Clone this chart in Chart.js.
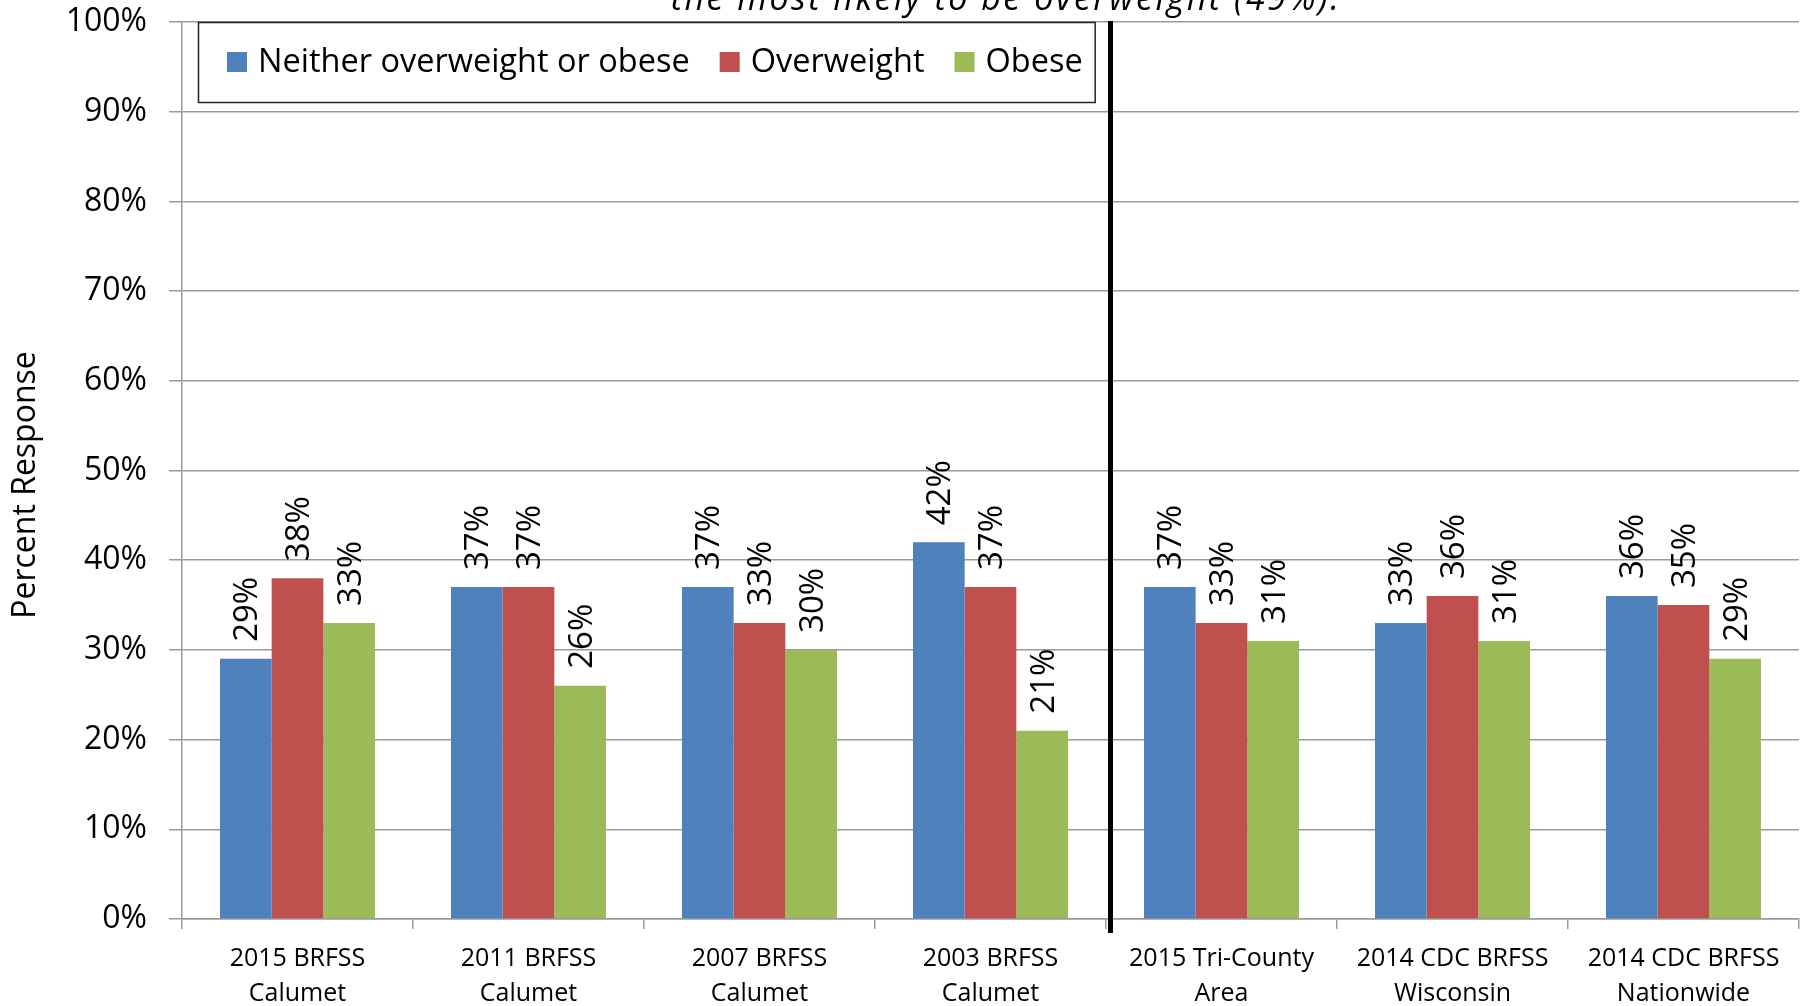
<!DOCTYPE html>
<html>
<head>
<meta charset="utf-8">
<script src="https://cdn.jsdelivr.net/npm/chart.js@4.4.1/dist/chart.umd.min.js"></script>
<style>
  html, body { margin: 0; padding: 0; background: #fff; }
  #wrap { width: 1806px; height: 1006px; }
</style>
</head>
<body>
<div id="wrap"><canvas id="weightChart" width="1806" height="1006"></canvas></div>
<script>
// data
const categories = [
    ['2015 BRFSS', 'Calumet'],
    ['2011 BRFSS', 'Calumet'],
    ['2007 BRFSS', 'Calumet'],
    ['2003 BRFSS', 'Calumet'],
    ['2015 Tri-County', 'Area'],
    ['2014 CDC BRFSS', 'Wisconsin'],
    ['2014 CDC BRFSS', 'Nationwide']
];
const neither = [29, 37, 37, 42, 37, 33, 36];
const overweight = [38, 37, 33, 37, 33, 36, 35];
const obese = [33, 26, 30, 21, 31, 31, 29];
const seriesNames = ['Neither overweight or obese', 'Overweight', 'Obese'];
const seriesColors = ['#4F81BD', '#C0504D', '#9BBB59'];
const titleText = 'the most likely to be overweight (49%).';
const yTitle = 'Percent Response';
const dividerAfter = 3; // black line between 2003 BRFSS and Tri-County

const sansFont = '"Open Sans", "DejaVu Sans", sans-serif';
const gridGray = '#9a9a9a';

// rotated value labels above each bar
const barLabels = {
    id: 'barLabels',
    afterDatasetsDraw(chart) {
        const ctx = chart.ctx;
        ctx.save();
        ctx.fillStyle = '#000';
        ctx.font = '33px ' + sansFont;
        ctx.textAlign = 'left';
        ctx.textBaseline = 'middle';
        chart.data.datasets.forEach((ds, i) => {
            chart.getDatasetMeta(i).data.forEach((bar, j) => {
                ctx.save();
                ctx.translate(bar.x + 2, bar.y - 17);
                ctx.rotate(-Math.PI / 2);
                ctx.fillText(ds.data[j] + '%', 0, 0);
                ctx.restore();
            });
        });
        ctx.restore();
    }
};

// title, y title, divider line and legend box
const extras = {
    id: 'extras',
    afterDraw(chart) {
        const ctx = chart.ctx;
        const area = chart.chartArea;
        const x = chart.scales.x;
        ctx.save();

        // cut off title line at the top
        ctx.fillStyle = '#000';
        ctx.font = 'italic 34px ' + sansFont;
        ctx.letterSpacing = '2.5px';
        ctx.textAlign = 'center';
        ctx.textBaseline = 'alphabetic';
        ctx.fillText(titleText, 1006, 10);
        ctx.letterSpacing = '0px';

        // y axis title
        ctx.save();
        ctx.translate(26, 485);
        ctx.rotate(-Math.PI / 2);
        ctx.font = '32px ' + sansFont;
        ctx.textBaseline = 'middle';
        ctx.fillText(yTitle, 0, 0);
        ctx.restore();

        // divider line
        const bx = (x.getPixelForValue(dividerAfter) + x.getPixelForValue(dividerAfter + 1)) / 2 + 4.5;
        ctx.strokeStyle = '#000';
        ctx.lineWidth = 5;
        ctx.beginPath();
        ctx.moveTo(bx, area.top - 1);
        ctx.lineTo(bx, area.bottom + 14);
        ctx.stroke();

        // legend
        ctx.font = '32.5px ' + sansFont;
        const boxL = area.left + 16, boxT = area.top, boxH = 80;
        let cx = boxL + 29;
        const cy = boxT + 40;
        const items = chart.data.datasets.map(ds => ({ text: ds.label, color: ds.backgroundColor }));
        let right = cx;
        const pos = items.map(it => {
            const p = { x: cx };
            const w = ctx.measureText(it.text).width;
            cx += 20 + 11 + w + 30;
            right = p.x + 20 + 11 + w;
            return p;
        });
        const boxR = right + 12;
        ctx.fillStyle = '#fff';
        ctx.fillRect(boxL, boxT, boxR - boxL, boxH);
        ctx.strokeStyle = '#222';
        ctx.lineWidth = 1.5;
        ctx.strokeRect(boxL + 0.5, boxT + 0.5, boxR - boxL, boxH);
        ctx.textAlign = 'left';
        ctx.textBaseline = 'middle';
        items.forEach((it, i) => {
            ctx.fillStyle = it.color;
            ctx.fillRect(pos[i].x, cy - 10, 20, 20);
            ctx.fillStyle = '#000';
            ctx.fillText(it.text, pos[i].x + 31, cy + 1);
        });

        ctx.restore();
    }
};

new Chart(document.getElementById('weightChart'), {
    type: 'bar',
    data: {
        labels: categories,
        datasets: [
            { label: seriesNames[0], data: neither, backgroundColor: seriesColors[0] },
            { label: seriesNames[1], data: overweight, backgroundColor: seriesColors[1] },
            { label: seriesNames[2], data: obese, backgroundColor: seriesColors[2] }
        ]
    },
    options: {
        responsive: false,
        animation: false,
        layout: { padding: { top: 22, right: 7, left: 0, bottom: 0 } },
        datasets: { bar: { categoryPercentage: 0.671, barPercentage: 1.0 } },
        plugins: {
            legend: { display: false },
            tooltip: { enabled: false },
            title: { display: false }
        },
        scales: {
            x: {
                afterFit(scale) {
                    scale.height = 87;
                    scale.paddingLeft = 0;
                    scale.paddingRight = 0;
                },
                grid: { drawOnChartArea: false, color: gridGray, lineWidth: 1.5, tickLength: 10 },
                border: { color: gridGray, width: 1.5 },
                ticks: {
                    autoSkip: false, maxRotation: 0, minRotation: 0, padding: 12,
                    color: '#000',
                    font: { family: sansFont, size: 25, lineHeight: 1.4 }
                }
            },
            y: {
                min: 0, max: 100,
                afterFit(scale) {
                    scale.width = 182;
                    scale.paddingTop = 0;
                    scale.paddingBottom = 0;
                },
                grid: { color: gridGray, lineWidth: 1.5, tickLength: 13 },
                border: { color: gridGray, width: 1.5 },
                ticks: {
                    stepSize: 10, padding: 22, color: '#000',
                    font: { family: sansFont, size: 32 },
                    callback: v => v + '%'
                }
            }
        }
    },
    plugins: [barLabels, extras]
});
</script>
</body>
</html>
